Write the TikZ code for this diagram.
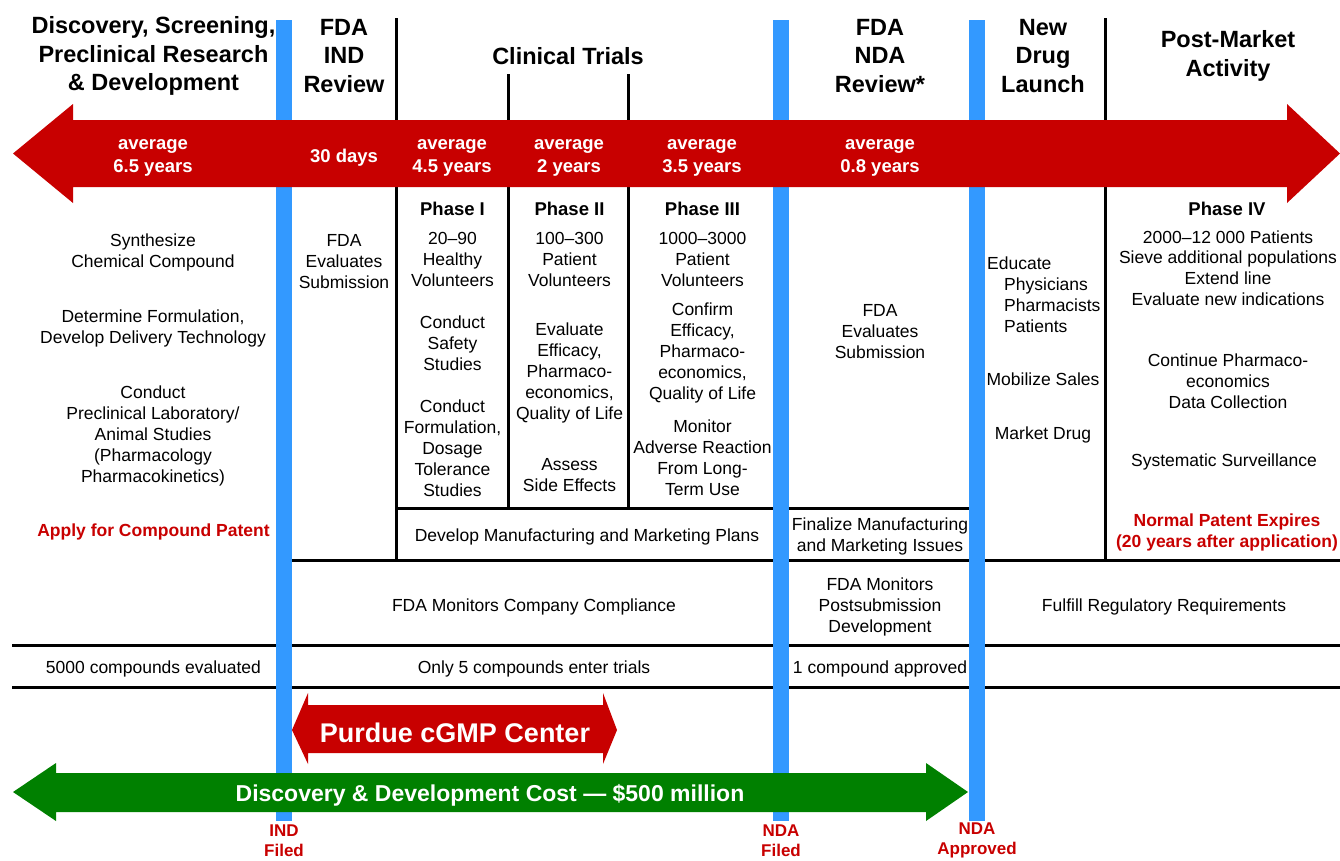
\documentclass[tikz,border=0pt]{standalone}
\usepackage{fontspec}
\setmainfont{Liberation Sans}
\usepackage{xcolor}
\usepackage{tikz}

\definecolor{arrowred}{RGB}{200,0,0}
\definecolor{barblue}{RGB}{51,153,255}
\definecolor{costgreen}{RGB}{0,128,0}

\begin{document}
\begin{tikzpicture}[x=1pt, y=-1pt,
  every node/.style={inner sep=0pt, align=center, yshift=-2pt},
  bodytext/.style={font=\fontsize{17.5}{21}\selectfont},
  heading/.style={font=\bfseries\fontsize{23.5}{28.5}\selectfont},
  phasehead/.style={font=\bfseries\fontsize{18.5}{21}\selectfont},
  arrowtext/.style={text=white, font=\bfseries\fontsize{18.5}{23}\selectfont},
  redtext/.style={text=arrowred, font=\bfseries\fontsize{17.5}{21}\selectfont},
  milestone/.style={text=arrowred, font=\bfseries\fontsize{17}{19.5}\selectfont},
  blackrule/.style={line width=3pt},
  bluebar/.style={barblue, line width=16pt}]
\useasboundingbox (0,0) rectangle (1340,860);

% column and row rules
\draw[blackrule] (396,18) -- (396,560);
\draw[blackrule] (508,74) -- (508,508);
\draw[blackrule] (628,74) -- (628,508);
\draw[blackrule] (1105,18) -- (1105,560);
\draw[blackrule] (396,508) -- (969,508);
\draw[blackrule] (292,560) -- (1340,560);
\draw[blackrule] (12,645) -- (1340,645);
\draw[blackrule] (12,687) -- (1340,687);

% filing / approval milestones
\draw[bluebar] (284,20) -- (284,821);
\draw[bluebar] (781,20) -- (781,821);
\draw[bluebar] (977,20) -- (977,821);

% time line arrow
\fill[arrowred] (13,153.5) -- (73,104) -- (73,120) -- (1287,120) -- (1287,104)
  -- (1340,153.5) -- (1287,203) -- (1287,187) -- (73,187) -- (73,203) -- cycle;

% headings
\node[heading] (discovery) at (153.5,54) {Discovery, Screening,\\Preclinical Research\\\& Development};
\node[heading] (indreview) at (344,54) {FDA\\IND\\Review};
\node[heading] (clinical) at (568,54) {Clinical Trials};
\node[heading] (ndareview) at (880,54) {FDA\\NDA\\Review*};
\node[heading] (launch) at (1043,54) {New\\Drug\\Launch};
\node[heading] (postmarket) at (1228,54) {Post-Market\\Activity};

% durations
\node[arrowtext] (dur1) at (153,155.5) {average\\6.5 years};
\node[arrowtext] (dur2) at (344,155.5) {30 days};
\node[arrowtext] (dur3) at (452,155.5) {average\\4.5 years};
\node[arrowtext] (dur4) at (569,155.5) {average\\2 years};
\node[arrowtext] (dur5) at (702,155.5) {average\\3.5 years};
\node[arrowtext] (dur6) at (880,155.5) {average\\0.8 years};

% discovery column
\node[bodytext] (synth) at (153,250.5) {Synthesize\\Chemical Compound};
\node[bodytext] (formul) at (153,326.5) {Determine Formulation,\\Develop Delivery Technology};
\node[bodytext] (preclin) at (153,434) {Conduct\\Preclinical Laboratory/\\Animal Studies\\(Pharmacology\\Pharmacokinetics)};
\node[redtext] (cpatent) at (153.5,530) {Apply for Compound Patent};

% IND review
\node[bodytext] (indeval) at (344,260) {FDA\\Evaluates\\Submission};

% phase I
\node[phasehead] (ph1) at (452.5,207) {Phase I};
\node[bodytext] (ph1vol) at (452.5,257) {20–90\\Healthy\\Volunteers};
\node[bodytext] (ph1safe) at (452.5,341) {Conduct\\Safety\\Studies};
\node[bodytext] (ph1dose) at (452.5,446) {Conduct\\Formulation,\\Dosage\\Tolerance\\Studies};

% phase II
\node[phasehead] (ph2) at (569.5,207) {Phase II};
\node[bodytext] (ph2vol) at (569.5,257) {100–300\\Patient\\Volunteers};
\node[bodytext] (ph2eff) at (569.5,370.5) {Evaluate\\Efficacy,\\Pharmaco-\\economics,\\Quality of Life};
\node[bodytext] (ph2side) at (569.5,473.5) {Assess\\Side Effects};

% phase III
\node[phasehead] (ph3) at (702.5,207) {Phase III};
\node[bodytext] (ph3vol) at (702.5,257) {1000–3000\\Patient\\Volunteers};
\node[bodytext] (ph3eff) at (702.5,350.5) {Confirm\\Efficacy,\\Pharmaco-\\economics,\\Quality of Life};
\node[bodytext] (ph3adv) at (702.5,455.5) {Monitor\\Adverse Reaction\\From Long-\\Term Use};

% NDA review
\node[bodytext] (ndaeval) at (880,330) {FDA\\Evaluates\\Submission};

% launch
\node[bodytext, align=left, anchor=west] (educate) at (987,292.5) {Educate\\\hspace{17pt}Physicians\\\hspace{17pt}Pharmacists\\\hspace{17pt}Patients};
\node[bodytext] (sales) at (1043,377) {Mobilize Sales};
\node[bodytext] (market) at (1043,433) {Market Drug};

% phase IV
\node[phasehead] (ph4) at (1227,207) {Phase IV};
\node[bodytext, font=\fontsize{17.5}{20.7}\selectfont] (ph4pat) at (1228,266) {2000–12 000 Patients\\Sieve additional populations\\Extend line\\Evaluate new indications};
\node[bodytext] (ph4econ) at (1228,379) {Continue Pharmaco-\\economics\\Data Collection};
\node[bodytext] (ph4surv) at (1224,460) {Systematic Surveillance};
\node[redtext] (npatent) at (1227,530.5) {Normal Patent Expires\\(20 years after application)};

% lower rows
\node[bodytext] (mfgplan) at (587,535) {Develop Manufacturing and Marketing Plans};
\node[bodytext] (mfgfinal) at (880,534.5) {Finalize Manufacturing\\and Marketing Issues};
\node[bodytext] (compliance) at (534,605) {FDA Monitors Company Compliance};
\node[bodytext] (postsub) at (880,605) {FDA Monitors\\Postsubmission\\Development};
\node[bodytext] (regul) at (1164,605) {Fulfill Regulatory Requirements};
\node[bodytext] (cnt5000) at (153.5,667) {5000 compounds evaluated};
\node[bodytext] (cnt5) at (534,667) {Only 5 compounds enter trials};
\node[bodytext] (cnt1) at (880,667) {1 compound approved};

% cGMP center span
\fill[arrowred] (292,730) -- (308,693) -- (308,705) -- (603,705) -- (603,693)
  -- (617,730) -- (603,764) -- (603,753) -- (308,753) -- (308,764) -- cycle;
\node[text=white, font=\bfseries\fontsize{27}{30}\selectfont] (purdue) at (455,731) {Purdue cGMP Center};

% cost span
\fill[costgreen] (13,792) -- (56,763) -- (56,773) -- (926,773) -- (926,763)
  -- (968,792) -- (926,821) -- (926,812) -- (56,812) -- (56,821) -- cycle;
\node[text=white, font=\bfseries\fontsize{23}{26}\selectfont] (cost) at (490,793) {Discovery \& Development Cost — \$500 million};

% milestone labels
\node[milestone] (indfiled) at (284,838.5) {IND\\Filed};
\node[milestone] (ndafiled) at (781,838.5) {NDA\\Filed};
\node[milestone] (ndaappr) at (977,838.5) {NDA\\Approved};
\end{tikzpicture}
\end{document}
